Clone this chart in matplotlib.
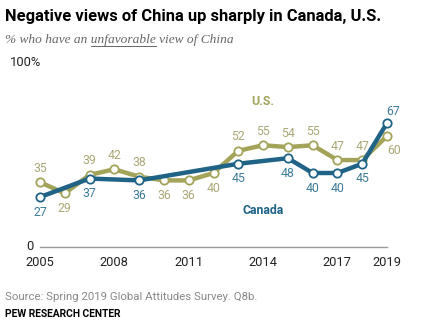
import matplotlib
matplotlib.use("Agg")
import matplotlib.pyplot as plt
from matplotlib.lines import Line2D

years_us = [2005, 2006, 2007, 2008, 2009, 2010, 2011, 2012, 2013, 2014, 2015, 2016, 2017, 2018, 2019]
us_vals = [35, 29, 39, 42, 38, 36, 36, 40, 52, 55, 54, 55, 47, 47, 60]
years_ca = [2005, 2007, 2009, 2013, 2015, 2016, 2017, 2018, 2019]
ca_vals = [27, 37, 36, 45, 48, 40, 40, 45, 67]
xticks = [2005, 2008, 2011, 2014, 2017, 2019]

# label placement: 'a' above, 'b' below, 'br' below-right, 'ar' above-right
us_pos = ['a', 'b', 'a', 'a', 'a', 'b', 'b', 'b', 'a', 'a', 'a', 'a', 'a', 'a', 'br']
ca_pos = ['b', 'b', 'b', 'b', 'b', 'b', 'b', 'b', 'ar']

US_C = "#a3a35a"
US_T = "#aaa877"
CA_C = "#1f6386"
CA_T = "#3d7c98"

W, H = 423, 329
fig = plt.figure(figsize=(W / 100, H / 100), dpi=100)
fig.patch.set_facecolor("white")

def fx(px):
    return px / W

def fy(py):
    return 1 - py / H

left, right, top, bottom = 40, 387, 62, 247
ax = fig.add_axes([fx(left), fy(bottom), fx(right - left), (bottom - top) / H])
ax.set_xlim(2005, 2019)
ax.set_ylim(0, 100)
for s in ax.spines.values():
    s.set_visible(False)
ax.set_xticks([])
ax.set_yticks([])
ax.axhline(0, color="#999999", lw=1.0, clip_on=False)

ax.plot(years_us, us_vals, color=US_C, lw=3.2, marker='o', ms=6,
        mfc='white', mec=US_C, mew=1.3, clip_on=False, zorder=3,
        solid_joinstyle='round')
ax.plot(years_ca, ca_vals, color=CA_C, lw=3.2, marker='o', ms=6,
        mfc='white', mec=CA_C, mew=1.3, clip_on=False, zorder=4,
        solid_joinstyle='round')

offs = {'a': (0, 14), 'b': (0, -15), 'br': (7, -15), 'ar': (6, 12)}
lab_font = dict(family="Roboto", fontsize=8.8)
for x, v, p in zip(years_us, us_vals, us_pos):
    ax.annotate(str(v), (x, v), xytext=offs[p], textcoords='offset pixels',
                ha='center', va='center', color=US_T, **lab_font)
for x, v, p in zip(years_ca, ca_vals, ca_pos):
    ax.annotate(str(v), (x, v), xytext=offs[p], textcoords='offset pixels',
                ha='center', va='center', color=CA_T, **lab_font)

ax.text(2014, 78.5, "U.S.", color=US_C, fontweight='bold', family="Roboto",
        fontsize=8.8, ha='center', va='center')
ax.text(2014, 19.5, "Canada", color=CA_C, fontweight='bold', family="Roboto",
        fontsize=8.8, ha='center', va='center')

for x in xticks:
    ax.annotate(str(x), (x, 0), xytext=(0, -15), textcoords='offset pixels',
                ha='center', va='center', fontsize=9.3, family="Roboto",
                color="#222222", annotation_clip=False)

fig.text(fx(30), fy(247), "0", ha='center', va='center', fontsize=9.3,
         family="Roboto", color="#222222")
fig.text(fx(10), fy(62), "100%", ha='left', va='center', fontsize=9.3,
         family="Roboto", color="#222222")

# title
fig.text(fx(5), fy(17), "Negative views of China up sharply in Canada, U.S.",
         ha='left', va='center', fontsize=11.9, fontweight='bold',
         family="Roboto", color="black")

# subtitle with underline
sub_kw = dict(ha='left', va='center', fontsize=9.6, style='italic',
              family="Liberation Serif", color="#666666")
sx, sy = fx(5), fy(40)
fig.text(sx, sy, "% who have an unfavorable view of China", **sub_kw)
fig.canvas.draw()
r = fig.canvas.get_renderer()
def wpx(s):
    t = fig.text(0, 0, s, **sub_kw)
    w = t.get_window_extent(r).width
    t.remove()
    return w
wa = wpx("% who have an unfavorable")
wu = wpx("unfavorable")
x0 = 5 + wa - wu
x1 = 5 + wa
fig.add_artist(Line2D([fx(x0), fx(x1)], [fy(46), fy(46)], color="#666666",
                      lw=0.7, transform=fig.transFigure))

fig.text(fx(5), fy(297), "Source: Spring 2019 Global Attitudes Survey. Q8b.",
         ha='left', va='center', fontsize=8.2, family="Roboto", color="#888888")
fig.text(fx(5), fy(314), "PEW RESEARCH CENTER", ha='left', va='center',
         fontsize=7.4, fontweight='bold', family="Roboto", color="black")

fig.savefig("out.png", dpi=100, facecolor="white")
